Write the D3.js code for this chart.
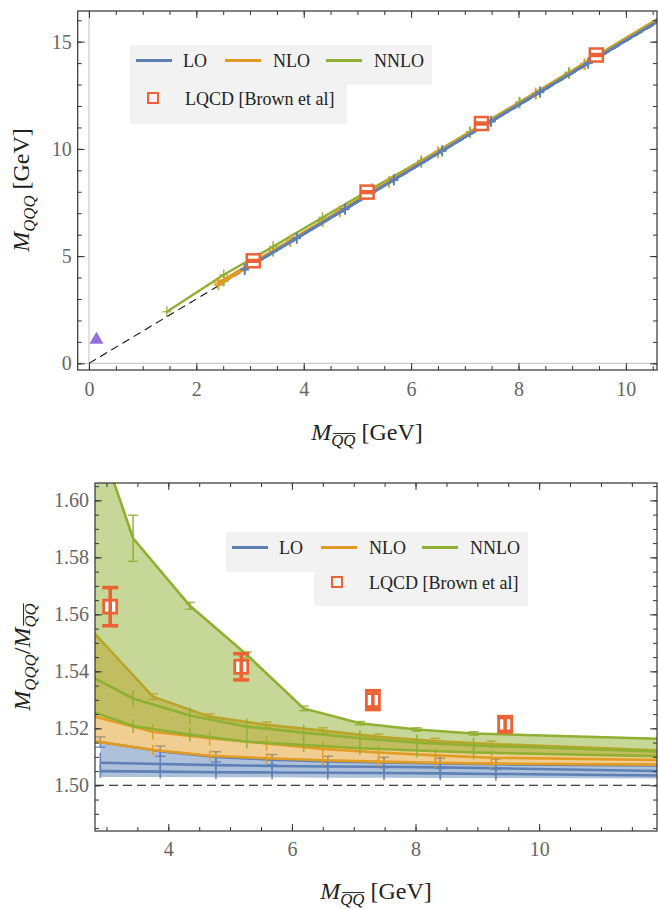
<!DOCTYPE html>
<html lang="en">
<head>
<meta charset="UTF-8">
<title>Triply heavy baryons vs quarkonium</title>
<script src="https://cdn.jsdelivr.net/npm/d3@7/dist/d3.min.js"></script>
<style>
  body { margin: 0; background: #fff; }
  svg { display: block; }
  svg text { font-family: "Liberation Serif", "DejaVu Serif", serif; }
</style>
</head>
<body>
<div id="chart"></div>
<script>
// ---------- data ----------
// M_QQbar of every computed point and ratio M_QQQ / M_QQbar (three curves per order)
const loX       = [2.90, 3.87, 4.77, 5.68, 6.58, 7.49, 8.40, 9.30, 12.5];
const loHi      = [1.5152, 1.5120, 1.5100, 1.5090, 1.5084, 1.5080, 1.5077, 1.5074, 1.5069];
const loMid     = [1.5079, 1.5075, 1.5071, 1.5068, 1.5066, 1.5065, 1.5063, 1.5060, 1.5048];
const loLow     = [1.5050, 1.5048, 1.5046, 1.5045, 1.5044, 1.5043, 1.5042, 1.5040, 1.5033];
const loBandLow = [1.5029, 1.5029, 1.5028, 1.5028, 1.5027, 1.5027, 1.5026, 1.5026, 1.5024];
const loErr     = [0.0024, 0.0036, 0.0018];   // low, mid, high

const nloX   = [2.41, 3.75, 4.67, 5.59, 6.50, 7.40, 8.32, 9.23, 12.5];
const nloHi  = [1.5627, 1.5311, 1.5241, 1.5212, 1.5192, 1.5170, 1.5155, 1.5145, 1.5118];
const nloMid = [1.5264, 1.5188, 1.5165, 1.5147, 1.5128, 1.5115, 1.5105, 1.5097, 1.5087];
const nloLow = [1.5167, 1.5124, 1.5104, 1.5095, 1.5088, 1.5083, 1.5079, 1.5076, 1.5072];
const nloErr = [0.0018, 0.0026, 0.0010];

const nnloX     = [1.45, 2.51, 3.43, 4.35, 5.27, 6.19, 7.10, 8.02, 8.94, 12.5];
const nnloHi    = [1.660, 1.645, 1.5867, 1.5630, 1.5458, 1.5270, 1.5218, 1.5196, 1.5182, 1.5160];
const nnloMid   = [null, 1.5409, 1.5305, 1.5245, 1.5206, 1.5185, 1.5165, 1.5150, 1.5140, 1.5115];
const nnloLow   = [null, 1.5278, 1.5208, 1.5178, 1.5153, 1.5141, 1.5130, 1.5122, 1.5115, 1.5100];
const nnloHiErr = [0.004, 0.004, 0.0081, 0.0012, 0.0010, 0.0008, 0.0006, 0.0006, 0.0006, 0.0006];
const nnloErr   = [0.0024, 0.0028, nnloHiErr];

// lattice QCD (Brown et al)
const latX   = [3.06, 5.18, 7.31, 9.45];
const latR   = [1.5627, 1.5416, 1.5299, 1.5214];
const latErr = [0.0067, 0.0046, 0.0033, 0.0027];

// extra point of the upper panel
const triX = [0.14];
const triY = [1.10];

// error crosses of the upper panel (GeV)
const topErrX = 0.08;
const topErrY = 0.25;

const heavyLimit = 1.5;
const orderNames = ["LO", "NLO", "NNLO"];
const colors = ["#5e81b5", "#e19c24", "#8fb032"];
const latColor = "#eb6235";
const latName = "LQCD [Brown et al]";

const orders = [
  { name: orderNames[0], color: colors[0], x: loX,   curves: [loLow, loMid, loHi],     err: loErr,   band: [loBandLow, loHi] },
  { name: orderNames[1], color: colors[1], x: nloX,  curves: [nloLow, nloMid, nloHi],  err: nloErr,  band: [nloLow, nloHi] },
  { name: orderNames[2], color: colors[2], x: nnloX, curves: [nnloLow, nnloMid, nnloHi], err: nnloErr, band: [nnloLow, nnloHi] }
];

function curvePoints(o, c) {
  const e = o.err[c];
  return o.x.map((xv, i) => ({ x: xv, r: o.curves[c][i], e: Array.isArray(e) ? e[i] : e }))
            .filter(d => d.r != null);
}

// ---------- page ----------
const W = 658, H = 909;
const FONT = "'Liberation Serif', 'DejaVu Serif', serif";
const svg = d3.select("#chart").append("svg").attr("width", W).attr("height", H)
  .attr("font-family", FONT);
const defs = svg.append("defs");

const xT = d3.scaleLinear().domain([-0.21, 10.58]).range([77.7, 657]);
const yT = d3.scaleLinear().domain([-0.31, 16.43]).range([370, 11]);
const xB = d3.scaleLinear().domain([2.814, 11.907]).range([95, 657]);
const yB = d3.scaleLinear().domain([1.48397, 1.6061]).range([831, 483]);

function clipFor(id, x, y) {
  defs.append("clipPath").attr("id", id).append("rect")
    .attr("x", x.range()[0]).attr("y", y.range()[1])
    .attr("width", x.range()[1] - x.range()[0]).attr("height", y.range()[0] - y.range()[1]);
}
clipFor("clipT", xT, yT);
clipFor("clipB", xB, yB);

function styleAxis(g, size) {
  g.select(".domain").remove();
  g.selectAll("line").attr("stroke", "#333").attr("stroke-width", 1);
  g.selectAll("text").attr("font-size", size).attr("fill", "#666").attr("font-family", FONT);
  g.attr("font-family", FONT).attr("font-size", null);
}

function frame(g, x, y, o) {
  const [x0, x1] = x.range(), [y0, y1] = y.range();
  const xMinor = o.xMinor.filter(v => v >= x.domain()[0] && v <= x.domain()[1]);
  const yMinor = o.yMinor.filter(v => v >= y.domain()[0] && v <= y.domain()[1]);
  const sides = [
    [d3.axisBottom, x, `translate(0,${y0})`, o.xMajor, xMinor, true,  o.xPad, o.xFmt],
    [d3.axisTop,    x, `translate(0,${y1})`, o.xMajor, xMinor, false],
    [d3.axisLeft,   y, `translate(${x0},0)`, o.yMajor, yMinor, true,  o.yPad, o.yFmt],
    [d3.axisRight,  y, `translate(${x1},0)`, o.yMajor, yMinor, false]
  ];
  sides.forEach(([ax, s, tr, major, minor, labels, pad, fmt]) => {
    g.append("g").attr("transform", tr)
      .call(ax(s).tickValues(minor).tickSize(-4).tickFormat(""))
      .call(a => styleAxis(a, 20));
    g.append("g").attr("transform", tr)
      .call(ax(s).tickValues(major).tickSize(-7).tickPadding(pad || 0)
        .tickFormat(labels ? fmt : ""))
      .call(a => styleAxis(a, 20));
  });
  g.append("rect").attr("x", x0).attr("y", y1).attr("width", x1 - x0).attr("height", y0 - y1)
    .attr("fill", "none").attr("stroke", "#333").attr("stroke-width", 1.2);
}

// label with italic M, subscripts and an optional bar
function massLabel(g, segs, size) {
  const t = g.append("text").attr("text-anchor", "middle").attr("font-size", size)
    .attr("fill", "#222").attr("font-family", FONT);
  let cur = 0;
  segs.forEach(s => {
    const ts = t.append("tspan").text(s.text);
    if (s.italic) ts.attr("font-style", "italic");
    const target = s.sub ? 6 : 0;
    ts.attr("dy", target - cur);
    cur = target;
    if (s.sub) ts.attr("font-size", size * 0.7);
  });
  let idx = 0;
  segs.forEach(s => {
    if (s.bar) {
      const node = t.node();
      const a = node.getStartPositionOfChar(idx);
      const b = node.getEndPositionOfChar(idx + s.text.length - 1);
      const yb = a.y - size * 0.7 * 0.74;
      g.append("line").attr("x1", a.x + 2).attr("x2", b.x).attr("y1", yb).attr("y2", yb)
        .attr("stroke", "#222").attr("stroke-width", 1);
    }
    idx += s.text.length;
  });
}

function legend(g, x0, y0, row2Shift) {
  g.append("rect").attr("x", x0).attr("y", y0).attr("width", 302).attr("height", 40).attr("fill", "#f2f2f2");
  g.append("rect").attr("x", x0 + row2Shift).attr("y", y0 + 40)
    .attr("width", 302 - (row2Shift > 0 ? row2Shift : 85)).attr("height", row2Shift > 0 ? 34 : 39)
    .attr("fill", "#f2f2f2");
  const offs = [[6, 53], [95, 143], [196, 244]];
  orders.forEach((o, i) => {
    g.append("line").attr("x1", x0 + offs[i][0]).attr("x2", x0 + offs[i][0] + 36)
      .attr("y1", y0 + 15.5).attr("y2", y0 + 15.5).attr("stroke", o.color).attr("stroke-width", 3);
    g.append("text").attr("x", x0 + offs[i][1]).attr("y", y0 + 22).attr("font-size", 18)
      .attr("font-family", FONT).attr("fill", "#222").text(o.name);
  });
  const sx = x0 + (row2Shift > 0 ? row2Shift + 23 : 23), sy = y0 + (row2Shift > 0 ? 50 : 53);
  g.append("rect").attr("x", sx - 5).attr("y", sy - 5).attr("width", 10).attr("height", 10)
    .attr("fill", "none").attr("stroke", latColor).attr("stroke-width", 2);
  g.append("text").attr("x", sx + 32).attr("y", sy + 6.5).attr("font-size", 18)
    .attr("font-family", FONT).attr("fill", "#222").text(latName);
}

function latMarker(g, cx, cy, ey, size, sw, capW) {
  g.append("rect").attr("x", cx - size / 2).attr("y", cy - size / 2)
    .attr("width", size).attr("height", size)
    .attr("fill", "#fff").attr("stroke", latColor).attr("stroke-width", sw);
  g.append("line").attr("x1", cx).attr("x2", cx).attr("y1", cy - ey).attr("y2", cy + ey)
    .attr("stroke", latColor).attr("stroke-width", sw + 0.8);
  [cy - ey, cy + ey].forEach(v => g.append("line").attr("x1", cx - capW / 2).attr("x2", cx + capW / 2)
    .attr("y1", v).attr("y2", v).attr("stroke", latColor).attr("stroke-width", sw + 0.8));
}

// ================= upper panel =================
const gT = svg.append("g");
const pT = gT.append("g").attr("clip-path", "url(#clipT)");

pT.append("line").attr("x1", xT(0)).attr("x2", xT(0)).attr("y1", yT.range()[0]).attr("y2", yT.range()[1])
  .attr("stroke", "#ccc").attr("stroke-width", 1.2);
pT.append("line").attr("x1", xT.range()[0]).attr("x2", xT.range()[1]).attr("y1", yT(0)).attr("y2", yT(0))
  .attr("stroke", "#ccc").attr("stroke-width", 1.2);

pT.append("path").datum([0, xT.domain()[1]])
  .attr("d", d3.line().x(d => xT(d)).y(d => yT(d * heavyLimit)))
  .attr("fill", "none").attr("stroke", "#111").attr("stroke-width", 1.1).attr("stroke-dasharray", "8,5");

const lineT = d3.line().x(d => xT(d.x)).y(d => yT(d.x * d.r));
orders.slice().reverse().forEach(o => {
  o.curves.forEach((c, ci) => {
    const pts = curvePoints(o, ci);
    pT.append("path").datum(pts).attr("d", lineT)
      .attr("fill", "none").attr("stroke", o.color).attr("stroke-width", 2.4);
    pts.forEach(d => {
      const px = xT(d.x), py = yT(d.x * d.r);
      pT.append("line").attr("x1", px).attr("x2", px)
        .attr("y1", yT(d.x * d.r - topErrY)).attr("y2", yT(d.x * d.r + topErrY))
        .attr("stroke", o.color).attr("stroke-width", 1.6).attr("stroke-opacity", 0.85);
      pT.append("line").attr("x1", xT(d.x - topErrX)).attr("x2", xT(d.x + topErrX))
        .attr("y1", py).attr("y2", py)
        .attr("stroke", o.color).attr("stroke-width", 1.6).attr("stroke-opacity", 0.85);
    });
  });
});

latX.forEach((xv, i) => {
  const cy = yT(xv * latR[i]);
  latMarker(pT, xT(xv), cy, yT(0) - yT(xv * latErr[i]), 13, 2.5, 13);
});

pT.selectAll(".tri").data(triX).join("path")
  .attr("transform", (d, i) => `translate(${xT(d)},${yT(triY[i])})`)
  .attr("d", d3.symbol(d3.symbolTriangle, 85)).attr("fill", "#9370db");

frame(gT, xT, yT, {
  xMajor: [0, 2, 4, 6, 8, 10], xMinor: d3.range(0, 11, 0.5), xPad: 12, xFmt: d3.format("d"),
  yMajor: [0, 5, 10, 15], yMinor: d3.range(0, 17, 1), yPad: 6, yFmt: d3.format("d")
});

legend(gT, 130, 45, 0);

massLabel(gT.append("g").attr("transform", "translate(367,440)"),
  [{ text: "M", italic: true }, { text: "QQ", italic: true, sub: true, bar: true }, { text: " [GeV]" }], 24);
massLabel(gT.append("g").attr("transform", "translate(29,190) rotate(-90)"),
  [{ text: "M", italic: true }, { text: "QQQ", italic: true, sub: true }, { text: " [GeV]" }], 24);

// ================= lower panel =================
const gB = svg.append("g");
const pB = gB.append("g").attr("clip-path", "url(#clipB)");

pB.append("line").attr("x1", xB.range()[0]).attr("x2", xB.range()[1])
  .attr("y1", yB(heavyLimit)).attr("y2", yB(heavyLimit))
  .attr("stroke", "#111").attr("stroke-width", 1.1).attr("stroke-dasharray", "9,5");

const lineB = d3.line().x(d => xB(d.x)).y(d => yB(d.r));
const areaB = d3.area().x(d => xB(d.x)).y0(d => yB(d.lo)).y1(d => yB(d.hi));

orders.forEach(o => {
  const band = o.x.map((xv, i) => ({ x: xv, lo: o.band[0][i], hi: o.band[1][i] }))
    .filter(d => d.lo != null && d.hi != null);
  pB.append("path").datum(band).attr("d", areaB).attr("fill", o.color).attr("fill-opacity", 0.5);
  o.curves.forEach((c, ci) => {
    const pts = curvePoints(o, ci);
    pB.append("path").datum(pts).attr("d", lineB)
      .attr("fill", "none").attr("stroke", o.color).attr("stroke-width", 2.6);
    pts.forEach(d => {
      const px = xB(d.x);
      pB.append("line").attr("x1", px).attr("x2", px).attr("y1", yB(d.r - d.e)).attr("y2", yB(d.r + d.e))
        .attr("stroke", o.color).attr("stroke-width", 1.6).attr("stroke-opacity", 0.9);
      if (ci === 2) {
        [d.r - d.e, d.r + d.e].forEach(v => pB.append("line")
          .attr("x1", px - 5).attr("x2", px + 5).attr("y1", yB(v)).attr("y2", yB(v))
          .attr("stroke", o.color).attr("stroke-width", 1.4).attr("stroke-opacity", 0.9));
      }
    });
  });
});

latX.forEach((xv, i) => {
  latMarker(pB, xB(xv), yB(latR[i]), yB(0) - yB(latErr[i]), 13, 2.8, 16);
});

frame(gB, xB, yB, {
  xMajor: [4, 6, 8, 10], xMinor: d3.range(2.5, 12.5, 0.5), xPad: 11, xFmt: d3.format("d"),
  yMajor: d3.range(75, 81).map(i => i / 50), yMinor: d3.range(297, 322).map(i => i / 200),
  yPad: 6, yFmt: d3.format(".2f")
});

legend(gB, 226, 532, 88);

massLabel(gB.append("g").attr("transform", "translate(376,899)"),
  [{ text: "M", italic: true }, { text: "QQ", italic: true, sub: true, bar: true }, { text: " [GeV]" }], 24);
massLabel(gB.append("g").attr("transform", "translate(30,657) rotate(-90)"),
  [{ text: "M", italic: true }, { text: "QQQ", italic: true, sub: true }, { text: "/" },
   { text: "M", italic: true }, { text: "QQ", italic: true, sub: true, bar: true }], 24);
</script>
</body>
</html>
